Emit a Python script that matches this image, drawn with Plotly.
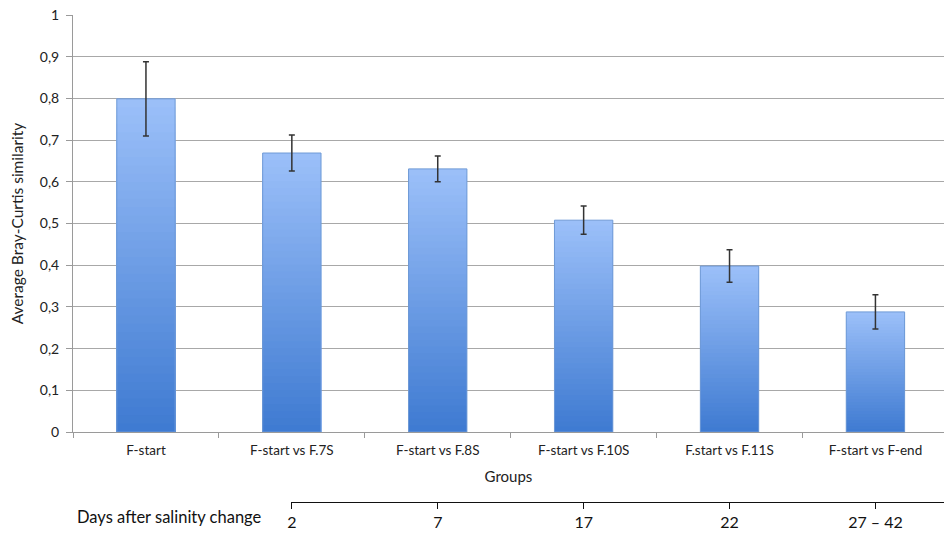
import plotly.graph_objects as go

groups = ["F-start", "F-start vs F.7S", "F-start vs F.8S", "F-start vs F.10S",
          "F.start vs F.11S", "F-start vs F-end"]
similarity = [0.799, 0.669, 0.631, 0.508, 0.398, 0.288]
errors = [0.089, 0.043, 0.031, 0.034, 0.039, 0.041]
day_positions = [1, 2, 3, 4, 5]
day_labels = ["2", "7", "17", "22", "27 – 42"]

FONT = "Lato"
top_rgb = (156, 192, 249)
bot_rgb = (62, 122, 209)
N = 40

fig = go.Figure()
# gradient fill: overlapping bars, tallest (lightest) first, shorter darker ones on top
for k in range(N):
    frac = (N - k) / N
    t = (N - k - 0.5) / N
    c = tuple(int(round(bot_rgb[i] + (top_rgb[i] - bot_rgb[i]) * t)) for i in range(3))
    fig.add_trace(go.Bar(
        x=groups, y=[v * frac for v in similarity],
        width=0.4, marker=dict(color="rgb(%d,%d,%d)" % c, line=dict(width=0)),
        showlegend=False, hoverinfo="skip"))
# outline + error bars
fig.add_trace(go.Bar(
    x=groups, y=similarity, width=0.4,
    marker=dict(color="rgba(0,0,0,0)", line=dict(color="#6f9ad6", width=1)),
    error_y=dict(type="data", array=errors, color="#333333", thickness=1.5, width=3),
    showlegend=False))
# days axis
fig.add_trace(go.Scatter(x=day_positions, y=[1.5] * 5, xaxis="x2", yaxis="y2",
                         mode="markers", marker=dict(opacity=0), showlegend=False,
                         hoverinfo="skip"))

fig.update_layout(
    width=944, height=534,
    margin=dict(l=73, r=0, t=15, b=10),
    paper_bgcolor="white", plot_bgcolor="white",
    separators=",.",
    barmode="overlay",
    font=dict(family=FONT, color="#222222", size=13),
    xaxis=dict(
        type="category", range=[-0.5, 5.47], automargin=False,
        showline=True, linecolor="#9a9a9a", linewidth=1,
        ticks="outside", tickson="boundaries", ticklen=5, tickcolor="#9a9a9a",
        tickfont=dict(size=13.5, family=FONT), ticklabelstandoff=6,
        title=dict(text="Groups", font=dict(size=15, family=FONT), standoff=14),
        showgrid=False, anchor="y",
    ),
    yaxis=dict(
        domain=[0.1807, 1], range=[0, 1], dtick=0.1, tick0=0, automargin=False,
        showline=True, linecolor="#9a9a9a", linewidth=1,
        ticks="outside", ticklen=6, tickcolor="#9a9a9a", ticklabelstandoff=4,
        showgrid=True, gridcolor="#a8a8a8", gridwidth=1,
        zeroline=False,
        tickfont=dict(size=14, family=FONT),
        title=dict(text="Average Bray-Curtis similarity", font=dict(size=15.5, family=FONT), standoff=12),
    ),
    xaxis2=dict(
        domain=[0.2503, 1], range=[0.994, 5.47], anchor="free", position=0.0432,
        automargin=False,
        showline=True, linecolor="#111111", linewidth=1,
        tickvals=day_positions, ticktext=day_labels,
        ticks="outside", ticklen=6, tickcolor="#111111",
        tickfont=dict(size=16, family=FONT, color="#111111"),
        showgrid=False, zeroline=False,
    ),
    yaxis2=dict(domain=[0, 0.05], visible=False, range=[1, 2], anchor="x2"),
    annotations=[dict(text="Days after salinity change", xref="paper", yref="paper",
                      x=0.002, y=0.014, xanchor="left", yanchor="middle", showarrow=False,
                      font=dict(size=16.5, family=FONT, color="#111111"))],
)
fig.write_html("out.html", post_script="document.body.style.margin='0';",
               config={"displayModeBar": False})
